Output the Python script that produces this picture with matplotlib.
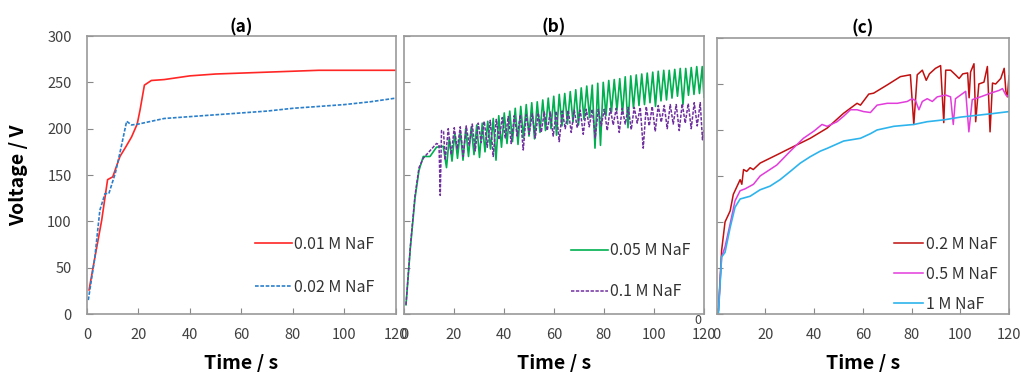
import matplotlib.pyplot as plt

plt.rcParams['font.family'] = ['Noto Sans CJK KR', 'DejaVu Sans']

# (a)
a1_t = [0.8, 3, 5.7, 8, 10, 12.8, 15, 17.3, 19.5, 20.6, 22.3, 25, 30, 40, 50, 60, 70, 80, 90, 100, 110, 120]
a1_v = [26, 60, 101, 145, 148, 170, 180, 191, 205, 220, 247, 252, 253, 257, 259, 260, 261, 262, 263, 263, 263, 263]
a2_t = [0.5, 3, 5, 7, 8.5, 11, 12.8, 15.4, 17.3, 20, 30, 40, 50, 60, 70, 80, 90, 100, 110, 120]
a2_v = [15, 60, 112, 130, 130, 152, 174, 208, 204, 205, 211, 213, 215, 217, 219, 222, 224, 226, 229, 233]

# (b)
b1_t = [0.8, 2.5, 4.4, 6, 7.7, 10.4, 13, 15.7,
        17.0, 18.1, 19.2, 20.3, 21.4, 22.5, 23.6, 24.7, 25.8, 26.9, 28.0, 29.1,
        30.2, 31.3, 32.4, 33.5, 34.6, 35.7, 36.8, 37.9, 39.0, 40.1, 41.2, 42.3,
        43.4, 44.5, 45.6, 46.7, 47.8, 48.9, 50.0, 51.1, 52.2, 53.3, 54.4, 55.5,
        56.6, 57.7, 58.8, 59.9, 61.0, 62.1, 63.2, 64.3, 65.4, 66.5, 67.6, 68.7,
        69.8, 70.9, 72.0, 73.1, 74.2, 75.3, 76.4, 77.5, 78.6, 79.7, 80.8, 81.9,
        83.0, 84.1, 85.2, 86.3, 87.4, 88.5, 89.6, 90.7, 91.8, 92.9, 94.0, 95.1,
        96.2, 97.3, 98.4, 99.5, 100.6, 101.7, 102.8, 103.9, 105.0, 106.1, 107.2, 108.3,
        109.4, 110.5, 111.6, 112.7, 113.8, 114.9, 116.0, 117.1, 118.2, 119.3, 120.0]
b1_v = [10, 70, 125, 155, 170, 170, 180, 181,
        158, 190, 165, 195, 168, 197, 166, 200, 170, 202, 172, 204,
        169, 206, 175, 208, 178, 211, 166, 214, 180, 217, 184, 219,
        186, 222, 183, 224, 190, 226, 192, 228, 189, 229, 196, 231,
        198, 233, 200, 235, 193, 237, 203, 238, 205, 240, 207, 242,
        204, 244, 210, 246, 212, 247, 179, 249, 182, 250, 214, 252,
        218, 253, 220, 254, 216, 256, 201, 257, 222, 258, 225, 259,
        226, 260, 228, 261, 224, 262, 230, 263, 231, 263, 233, 264,
        235, 265, 226, 265, 236, 266, 237, 267, 238, 267, 234]
b2_t = [0.8, 2.5, 4.4, 6, 7.7, 9, 11, 13, 14.0, 14.5, 15.0, 15.8,
        16.5, 17.7, 18.9, 20.1, 21.3, 22.5, 23.7, 24.9, 26.1, 27.3, 28.5, 29.7,
        30.9, 32.1, 33.3, 34.5, 35.7, 36.9, 38.1, 39.3, 40.5, 41.7, 42.9, 44.1,
        45.3, 46.5, 47.7, 48.9, 50.1, 51.3, 52.5, 53.7, 54.9, 56.1, 57.3, 58.5,
        59.7, 60.9, 62.1, 63.3, 64.5, 65.7, 66.9, 68.1, 69.3, 70.5, 71.7, 72.9,
        74.1, 75.3, 76.5, 77.7, 78.9, 80.1, 81.3, 82.5, 83.7, 84.9, 86.1, 87.3,
        88.5, 89.7, 90.9, 92.1, 93.3, 94.5, 95.7, 96.9, 98.1, 99.3, 100.5, 101.7,
        102.9, 104.1, 105.3, 106.5, 107.7, 108.9, 110.1, 111.3, 112.5, 113.7, 114.9, 116.1,
        117.3, 118.5, 119.4, 120.0]
b2_v = [10, 72, 128, 158, 168, 172, 178, 184, 183, 128, 198, 197,
        166, 200, 172, 201, 178, 202, 170, 203, 182, 205, 176, 206,
        185, 208, 180, 209, 170, 210, 188, 212, 190, 213, 184, 214,
        192, 215, 177, 215, 194, 216, 190, 217, 196, 218, 198, 218,
        192, 219, 186, 219, 200, 220, 196, 220, 201, 220, 194, 221,
        202, 221, 190, 221, 203, 221, 198, 222, 204, 222, 196, 222,
        205, 223, 199, 223, 206, 223, 179, 224, 203, 224, 197, 225,
        207, 225, 200, 226, 205, 226, 198, 227, 206, 227, 200, 228,
        203, 228, 188, 200]

# (c)
c1_t = [0.7, 2, 3.4, 5.5, 6.8, 9.6, 10.3, 11, 12.3, 13.7, 15, 17.8, 24.7, 31.5, 38.4, 45.3,
        52, 57.6, 59, 62.4, 64.4, 70, 75.4, 79.5, 80.9, 82.3, 84.4, 86, 87.3, 89.8,
        91.9, 93.2, 94, 96, 98, 99.5, 101, 103, 103.6, 104.2, 105.6, 106.3, 107.6, 109.7,
        111.1, 112.2, 113.2, 114.5, 116.6, 118, 118.7, 119.3, 120]
c1_v = [4, 69, 100, 112, 130, 146, 141, 157, 155, 159, 157, 164, 173, 182, 191, 202,
        218, 229, 227, 239, 240, 249, 258, 260, 206, 260, 265, 254, 261, 267,
        270, 208, 265, 265, 260, 256, 261, 262, 235, 263, 272, 209, 250, 252,
        269, 198, 251, 250, 256, 267, 242, 236, 259]
c2_t = [0.7, 2, 3.4, 5.5, 7.5, 9.6, 11.6, 15.1, 17.8, 24.7, 30.2, 35.6, 40, 43.2, 45.3,
        49.4, 52.1, 54.9, 57.6, 60.3, 63.1, 65.8, 70, 74.1, 78.2, 80.2, 81.6, 83, 84.4,
        86.4, 88.5, 90.5, 94, 96, 97.1, 98, 100.1, 102.2, 103.5, 104.9, 108.3, 112.4,
        115.9, 117.3, 118.7, 120]
c2_v = [4, 62, 73, 98, 123, 134, 136, 141, 150, 162, 177, 191, 199, 206, 204,
        209, 215, 222, 222, 220, 219, 227, 229, 229, 231, 234, 232, 222, 231,
        234, 231, 236, 238, 236, 206, 234, 238, 242, 198, 233, 236, 240,
        243, 245, 238, 236]
c3_t = [0.7, 2, 3.4, 5.5, 7.5, 9.6, 13.7, 17.8, 21.9, 26, 30.2, 34.3, 38.4, 42.5, 45.3,
        52.1, 59, 63.1, 65.8, 72.7, 80.9, 86.4, 93.2, 100.1, 107, 113.8, 120]
c3_v = [1, 62, 67, 94, 116, 125, 128, 135, 139, 146, 155, 164, 171, 177, 180,
        188, 191, 196, 200, 204, 206, 209, 211, 214, 216, 218, 220]

fig = plt.figure(figsize=(10.21, 3.72), dpi=100)
ax1 = fig.add_axes([0.0852, 0.1559, 0.3026, 0.7473])
ax2 = fig.add_axes([0.3957, 0.1559, 0.2938, 0.7473])
ax3 = fig.add_axes([0.702, 0.1559, 0.2863, 0.742])

dash = (2.2, 1.0)
ax1.plot(a1_t, a1_v, color="#FF2626", lw=1.2, label="0.01 M NaF")
ax1.plot(a2_t, a2_v, color="#2A7FCC", lw=1.2, dashes=dash, label="0.02 M NaF")
ax2.plot(b1_t, b1_v, color="#00B050", lw=1.2, label="0.05 M NaF")
ax2.plot(b2_t, b2_v, color="#7030A0", lw=1.1, dashes=dash, label="0.1 M NaF")
ax3.plot(c1_t, c1_v, color="#C01010", lw=1.1, label="0.2 M NaF")
ax3.plot(c2_t, c2_v, color="#E23CDB", lw=1.1, label="0.5 M NaF")
ax3.plot(c3_t, c3_v, color="#2EB4EC", lw=1.2, label="1 M NaF")

for ax, title in [(ax1, "(a)"), (ax2, "(b)"), (ax3, "(c)")]:
    ax.set_xlim(0, 120)
    ax.set_ylim(0, 300)
    ax.set_xticks(range(0, 121, 20))
    ax.set_yticks(range(0, 301, 50))
    ax.tick_params(direction="in", length=4, color="#888888", labelsize=10.5,
                   labelcolor="#404040", top=False, right=False)
    ax.tick_params(axis="x", pad=10)
    ax.tick_params(axis="y", pad=11)
    for s in ax.spines.values():
        s.set_color("#999999")
        s.set_linewidth(1.2)
    ax.set_title(title, fontsize=12.5, fontweight="bold", pad=2)
    ax.set_xlabel("Time / s", fontsize=14, fontweight="bold", labelpad=9)

ax1.set_ylabel("Voltage / V", fontsize=14, fontweight="bold", labelpad=14)
ax2.tick_params(labelleft=False)
ax3.tick_params(labelleft=False)
# stray zero seen at the lower right corner of (b)
ax2.text(117.5, -0.5, "0", fontsize=9, color="#404040", ha="center", va="top")

leg_kw = dict(frameon=False, fontsize=11.5, handletextpad=0.15, borderpad=0,
              borderaxespad=0, labelcolor="#333333")
ax1.legend(loc="lower right", bbox_to_anchor=(0.93, 0.065), labelspacing=1.65,
           handlelength=2.3, **leg_kw)
ax2.legend(loc="lower right", bbox_to_anchor=(0.955, 0.05), labelspacing=1.5,
           handlelength=2.3, **leg_kw)
ax3.legend(loc="lower right", bbox_to_anchor=(0.96, 0.005), labelspacing=0.8,
           handlelength=1.85, **leg_kw)

plt.savefig("out.png", dpi=100)
